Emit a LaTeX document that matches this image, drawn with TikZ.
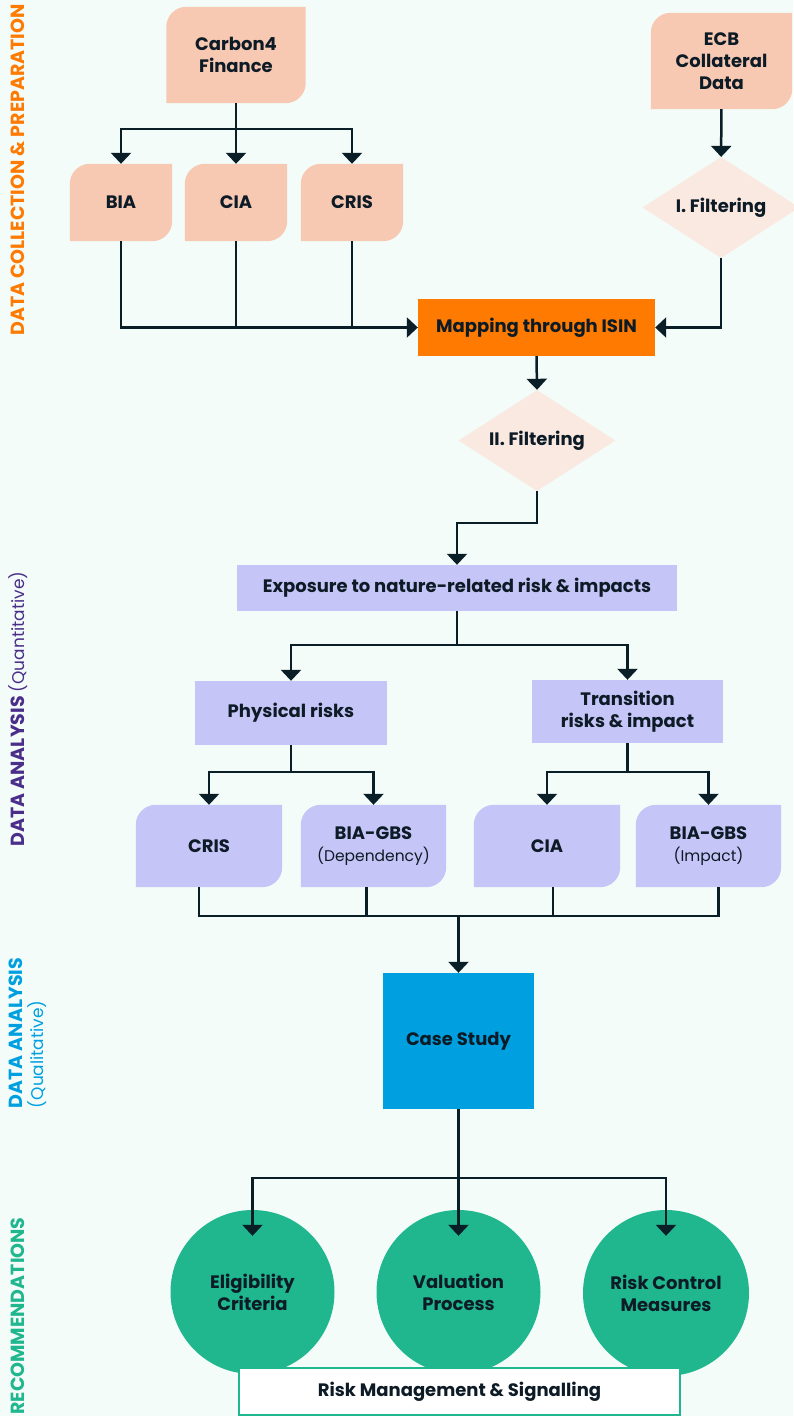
\documentclass[tikz,border=0pt]{standalone}
\usepackage{fontspec}
\setmainfont{Poppins}
\usetikzlibrary{arrows.meta}
\usetikzlibrary{shapes.geometric}
\usetikzlibrary{backgrounds}

\definecolor{bgmint}{RGB}{243,252,249}
\definecolor{peach}{RGB}{248,201,178}
\definecolor{lightpeach}{RGB}{250,233,224}
\definecolor{isinorange}{RGB}{255,122,0}
\definecolor{lavender}{RGB}{198,197,247}
\definecolor{quantpurple}{RGB}{74,46,138}
\definecolor{qualblue}{RGB}{0,160,224}
\definecolor{recgreen}{RGB}{32,182,142}
\definecolor{linedark}{RGB}{10,30,40}
\definecolor{textdark}{RGB}{13,27,38}

\newcommand{\subfont}{\fontsize{15.5}{22}\selectfont\mdseries}
\newcommand{\sidesub}{\fontsize{17}{21}\selectfont\mdseries}

\tikzset{box/.style={inner sep=0pt, align=center, text=textdark, font=\fontsize{18}{22}\selectfont\bfseries},
%leaf boxes get their fill on the background layer
leaf/.style={box, minimum width=#1},
leaf/.default={102pt},
filter/.style={box, diamond, aspect=1.55, fill=lightpeach, minimum width=157pt, minimum height=101pt},
flat/.style={box, fill=lavender},
bubble/.style={box, circle, fill=recgreen, minimum size=#1},
bubble/.default={164pt},
sidelab/.style={rotate=90, inner sep=0pt, font=\fontsize{19}{21}\selectfont\bfseries},
link/.style={draw=linedark, line width=2.5pt},
arr/.style={link, -{Triangle[width=20pt,length=11pt]}}}

\begin{document}
\begin{tikzpicture}[x=1pt,y=-1pt]
\useasboundingbox (0,0) rectangle (793,1416);

% data collection & preparation
\node[leaf=139pt, minimum height=96pt] (c4f) at (236,55) {Carbon4\\Finance};
\node[leaf=141pt, minimum height=96pt] (ecb) at (721.5,61) {ECB\\Collateral\\Data};
\node[leaf, minimum height=77pt] (bia) at (121,202.5) {BIA};
\node[leaf, minimum height=77pt] (cia) at (236,202.5) {CIA};
\node[leaf, minimum height=77pt] (cris1) at (352,202.5) {CRIS};
\node[filter] (filt1) at (721,207.5) {I. Filtering};
\node[box, fill=isinorange, minimum width=237pt, minimum height=57pt] (isin) at (536.5,327.5) {Mapping through ISIN};
\node[filter] (filt2) at (537,440.5) {II. Filtering};

% quantitative analysis
\node[flat, minimum width=440pt, minimum height=46pt] (expo) at (457,588) {Exposure to nature-related risk \& impacts};
\node[flat, minimum width=192pt, minimum height=64pt] (phys) at (291,713) {Physical risks};
\node[flat, minimum width=191pt, minimum height=63pt] (trans) at (627.5,711.5) {Transition\\risks \& impact};
\node[leaf=146pt, minimum height=82pt] (cris2) at (209,846) {CRIS};
\node[leaf=145pt, minimum height=82pt] (biad) at (373.5,846) {BIA-GBS\\{\subfont (Dependency)}};
\node[leaf=146pt, minimum height=82pt] (cia2) at (547,846) {CIA};
\node[leaf=145pt, minimum height=82pt] (biai) at (708.5,846) {BIA-GBS\\{\subfont (Impact)}};

% qualitative analysis
\node[box, fill=qualblue, minimum width=151pt, minimum height=136pt] (case) at (458.5,1041) {Case Study};

% recommendations
\node[bubble] (elig) at (252.5,1292) {Eligibility\\Criteria};
\node[bubble] (valu) at (458.5,1292) {Valuation\\Process};
\node[bubble=166pt] (risk) at (666,1293) {Risk Control\\Measures};
\node[box, fill=white, draw=recgreen, line width=2pt, minimum width=441pt, minimum height=47pt] (rms) at (459.5,1391.5) {Risk Management \& Signalling};

% side labels
\node[sidelab, text=isinorange] (lab1) at (18,170) {DATA COLLECTION \& PREPARATION};
\node[sidelab, text=quantpurple] (lab2) at (18,709) {DATA ANALYSIS {\sidesub(Quantitative)}};
\node[sidelab, text=qualblue, align=left] (lab3) at (28,1033) {DATA ANALYSIS\\{\sidesub(Qualitative)}};
\node[sidelab, text=recgreen] (lab4) at (18,1316) {RECOMMENDATIONS};

% fills behind the nodes
\begin{scope}[on background layer]
\fill[bgmint] (0,0) rectangle (793,1416);
\foreach \n in {c4f,ecb,bia,cia,cris1}
  \fill[peach] (\n.south west) -- ([yshift=-20pt]\n.north west) arc[start angle=180, end angle=90, radius=20pt]
    -- (\n.north east) -- ([yshift=20pt]\n.south east) arc[start angle=0, end angle=-90, radius=20pt] -- cycle;
\foreach \n in {cris2,biad,cia2,biai}
  \fill[lavender] (\n.south west) -- ([yshift=-20pt]\n.north west) arc[start angle=180, end angle=90, radius=20pt]
    -- (\n.north east) -- ([yshift=20pt]\n.south east) arc[start angle=0, end angle=-90, radius=20pt] -- cycle;
\end{scope}

% connectors
\coordinate (j1) at (236,129);
\draw[arr] (c4f) -- (cia);
\draw[arr] (j1) -| (bia);
\draw[arr] (j1) -| (cris1);
\draw[arr] (bia) |- (isin);
\draw[link] (cia) -- (cia |- isin.west);
\draw[link] (cris1) -- (cris1 |- isin.west);
\draw[arr] (ecb) -- (filt1);
\draw[arr] (filt1) |- (isin);
\draw[arr] (isin.south) -- (filt2.north);

\coordinate (j2) at (537,523);
\draw[arr] (filt2) -- (j2) -| (expo);
\coordinate (j3) at (457,645);
\draw[link] (expo) -- (j3);
\draw[arr] (j3) -| (phys);
\draw[arr] (j3) -| (trans);
\coordinate (j4) at (291,772);
\draw[link] (phys) -- (j4);
\draw[arr] (j4) -| (cris2);
\draw[arr] (j4) -| (biad);
\coordinate (j5) at (627.5,772);
\draw[link] (trans) -- (j5);
\draw[arr] (j5) -| (cia2);
\draw[arr] (j5) -| (biai);

\coordinate (j6) at (458.5,916);
\draw[link] ([xshift=-10pt]cris2.south) |- (j6) -| ([xshift=10pt]biai.south);
\draw[link] ([xshift=-7pt]biad.south) -- ++(0,29);
\draw[link] ([xshift=6pt]cia2.south) -- ++(0,29);
\draw[arr] (j6) -- (case);

\coordinate (j7) at (458.5,1178);
\draw[link] (case) -- (j7);
\draw[arr] (j7) -| ([yshift=-26pt]elig.north);
\draw[arr] (j7) -- ([yshift=-26pt]valu.north);
\draw[arr] (j7) -| ([yshift=-26pt]risk.north);
\end{tikzpicture}
\end{document}
